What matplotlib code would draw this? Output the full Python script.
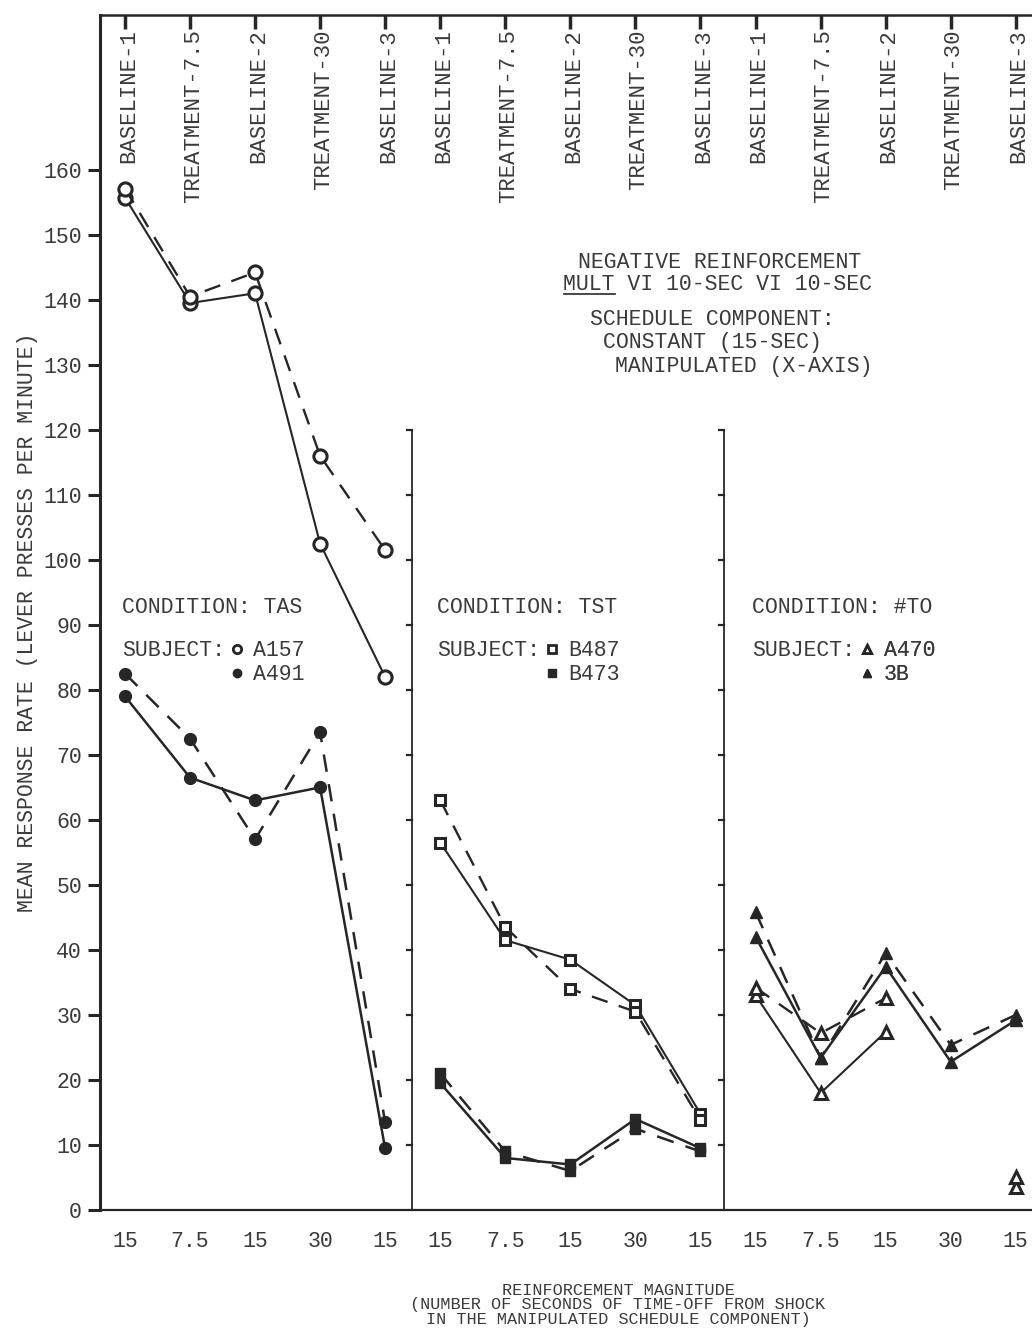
import numpy as np
import matplotlib.pyplot as plt
from matplotlib.lines import Line2D
from matplotlib.transforms import blended_transform_factory

FONT = 'Liberation Mono'
INK = '#262626'
TXT = '#3a3a3a'
FS = 15.5

# categories (same five sessions in every panel)
top_labels = ['BASELINE-1', 'TREATMENT-7.5', 'BASELINE-2', 'TREATMENT-30', 'BASELINE-3']
bottom_labels = ['15', '7.5', '15', '30', '15']
panel_offsets = [0, 4.85, 9.7]   # left position of each condition panel
separators = [4.42, 9.22]        # vertical divider between panels

# condition TAS
a157_solid = [155.7, 139.5, 141.0, 102.5, 82.0]
a157_dashed = [157.1, 140.5, 144.2, 116.0, 101.5]
a491_solid = [79.0, 66.5, 63.0, 65.0, 9.5]
a491_dashed = [82.5, 72.5, 57.0, 73.5, 13.5]
# condition TST
b487_solid = [56.5, 41.5, 38.5, 31.5, 14.8]
b487_dashed = [63.0, 43.5, 34.0, 30.5, 13.8]
b473_solid = [19.5, 8.0, 7.0, 14.0, 9.5]
b473_dashed = [21.0, 9.0, 6.0, 12.5, 9.0]
# condition #TO
a470_solid = [33.0, 18.0, 27.4, np.nan, 3.5]
a470_dashed = [34.2, 27.2, 32.6, np.nan, 5.0]
s3b_solid = [42.0, 23.4, 37.4, 22.8, 29.2]
s3b_dashed = [45.8, 23.4, 39.5, 25.4, 30.0]

conditions = ['TAS', 'TST', '#TO']
subjects = [('A157', 'A491'), ('B487', 'B473'), ('A470', '3B')]
markers = ['o', 's', '^']
msizes = [9.5, 7.5, 9]

panel_data = [
    (a157_solid, a157_dashed, a491_solid, a491_dashed),
    (b487_solid, b487_dashed, b473_solid, b473_dashed),
    (a470_solid, a470_dashed, s3b_solid, s3b_dashed),
]

fig = plt.figure(figsize=(10.32, 13.37), dpi=100)
ax = fig.add_axes([100 / 1032, 127 / 1337, 932 / 1032, 1195 / 1337])

idx = np.arange(5)
for p, (off, series) in enumerate(zip(panel_offsets, panel_data)):
    x = idx + off
    open_s, open_d, fill_s, fill_d = series
    m = markers[p]
    ms = msizes[p]
    ax.plot(x, open_s, '-', color=INK, lw=1.5, marker=m, ms=ms,
            mfc='white', mec=INK, mew=2.2)
    ax.plot(x, open_d, color=INK, lw=1.7, ls=(0, (7, 5)), marker=m, ms=ms,
            mfc='white', mec=INK, mew=2.2)
    ax.plot(x, fill_s, '-', color=INK, lw=1.8, marker=m, ms=ms - 1,
            mfc=INK, mec=INK)
    ax.plot(x, fill_d, color=INK, lw=1.8, ls=(0, (7, 5)), marker=m, ms=ms - 1,
            mfc=INK, mec=INK)

# panel dividers with their own little ticks
for s in separators:
    ax.plot([s, s], [0, 120], color=INK, lw=1.3)
    for yv in range(10, 121, 10):
        ax.plot([s - 0.09, s], [yv, yv], color=INK, lw=1.6)

ax.set_xlim(-0.385, 13.95)
ax.set_ylim(0, 183.8)

xt = np.concatenate([idx + off for off in panel_offsets])
ax.set_xticks(xt)
ax.set_xticklabels(bottom_labels * 3, family=FONT, fontsize=FS, color=TXT)
ax.tick_params(axis='x', bottom=False, top=True, direction='in', length=10,
               width=2.5, color=INK, pad=15)
ax.set_yticks(np.arange(0, 161, 10))
ax.set_yticklabels([str(v) for v in range(0, 161, 10)], family=FONT,
                   fontsize=FS, color=TXT)
ax.tick_params(axis='y', direction='out', length=9, width=2.2, color=INK, pad=4)

ax.spines['right'].set_visible(False)
ax.spines['left'].set_linewidth(2.2)
ax.spines['bottom'].set_linewidth(1.6)
ax.spines['top'].set_linewidth(1.8)
for sp in ax.spines.values():
    sp.set_color(INK)

# session names along the top, inside the frame
trans = blended_transform_factory(ax.transData, ax.transAxes)
for off in panel_offsets:
    for i, lab in enumerate(top_labels):
        ax.text(i + off + 0.05, 0.988, lab, transform=trans, rotation=90,
                ha='center', va='top', family=FONT, fontsize=16, color=TXT)

# condition / subject keys
for p, off in enumerate(panel_offsets):
    ax.text(off - 0.05, 92.6, 'CONDITION: ' + conditions[p], family=FONT,
            fontsize=FS, color=TXT, va='center')
    ax.text(off - 0.05, 86.0, 'SUBJECT:', family=FONT, fontsize=FS,
            color=TXT, va='center')
    h = [Line2D([], [], ls='none', marker=markers[p], ms=6, mfc='white',
                mec=INK, mew=2),
         Line2D([], [], ls='none', marker=markers[p], ms=6, mfc=INK, mec=INK)]
    leg = ax.legend(h, subjects[p], loc='upper left', frameon=False,
                    bbox_to_anchor=(off + 1.62, 87.6), bbox_transform=ax.transData,
                    prop={'family': FONT, 'size': FS}, handlelength=0.6,
                    handletextpad=0.45, labelspacing=0.12, borderpad=0,
                    borderaxespad=0)
    for t in leg.get_texts():
        t.set_color(TXT)
    ax.add_artist(leg)

# schedule description block
note_kw = dict(family=FONT, fontsize=FS, color=TXT, ha='left', va='center')
ax.text(6.97, 145.7, 'NEGATIVE REINFORCEMENT', **note_kw)
ax.text(6.74, 142.3, 'MULT VI 10-SEC VI 10-SEC', **note_kw)
ax.plot([6.75, 7.53], [140.9, 140.9], color=TXT, lw=1.3)   # underline of MULT
ax.text(7.15, 136.9, 'SCHEDULE COMPONENT:', **note_kw)
ax.text(7.35, 133.4, 'CONSTANT (15-SEC)', **note_kw)
ax.text(7.54, 129.7, 'MANIPULATED (X-AXIS)', **note_kw)

fig.text(28 / 1032, 1 - 622 / 1337,
         'MEAN RESPONSE RATE (LEVER PRESSES PER MINUTE)', rotation=90,
         ha='center', va='center', family=FONT, fontsize=FS, color=TXT)
fig.text(618 / 1032, 1 - 1305 / 1337,
         'REINFORCEMENT MAGNITUDE\n(NUMBER OF SECONDS OF TIME-OFF FROM SHOCK\n'
         'IN THE MANIPULATED SCHEDULE COMPONENT)',
         ha='center', va='center', family=FONT, fontsize=12.2, color=TXT,
         linespacing=0.95)

fig.savefig('out.png', dpi=100, facecolor='white')
